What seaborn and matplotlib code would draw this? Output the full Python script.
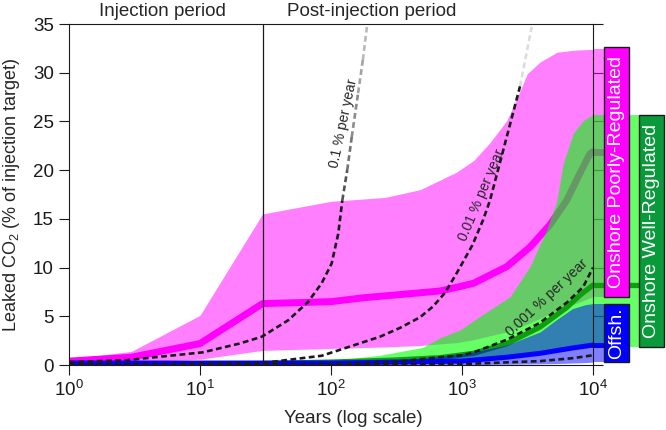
import numpy as np
import matplotlib
matplotlib.use("Agg")
import matplotlib.pyplot as plt
import seaborn as sns
from matplotlib.patches import Rectangle
from matplotlib.ticker import NullLocator

# values (years, % of injection target)
poor_t = [1, 3, 10, 30, 100, 258, 480, 910, 1230, 1630, 2200, 2650, 3150, 3950, 5300, 7000, 10000]
poor_hi = [0.6, 1.4, 5.1, 15.5, 16.8, 17.2, 18.0, 19.8, 21.0, 22.8, 25.1, 27.5, 29.9, 31.1, 32.1, 32.3, 32.4]
poor_lo = [0.15, 0.3, 0.6, 1.5, 1.7, 1.85, 2.0, 2.3, 2.6, 3.0, 3.4, 3.8, 4.2, 4.8, 5.6, 6.2, 7.0]
poor_med_t = [1, 3, 10, 30, 100, 176, 470, 680, 1000, 1230, 2200, 3300, 4700, 6300, 7960, 9480, 10000]
poor_med = [0.4, 0.8, 2.2, 6.3, 6.5, 6.9, 7.4, 7.6, 8.1, 8.4, 10.1, 12.1, 14.4, 16.9, 19.7, 21.7, 21.9]

well_t = [1, 30, 100, 236, 500, 680, 966, 1370, 2325, 3300, 4430, 5285, 5930, 7080, 8440, 10000]
well_hi = [0.1, 0.2, 0.45, 1.0, 1.8, 2.8, 3.6, 5.0, 7.0, 10.1, 13.9, 16.8, 20.7, 23.8, 25.1, 25.7]
well_lo = [0.0, 0.0, 0.1, 0.15, 0.25, 0.3, 0.35, 0.5, 0.75, 1.0, 1.2, 1.35, 1.45, 1.6, 1.75, 1.85]
well_med_t = [1, 30, 100, 300, 680, 1230, 2200, 3950, 6300, 8000, 10000]
well_med = [0.1, 0.15, 0.3, 0.5, 0.75, 1.2, 2.2, 3.9, 5.9, 7.2, 8.2]

off_t = [1, 30, 100, 300, 680, 1230, 2200, 3950, 5200, 7000, 8800, 10000]
off_hi = [0.15, 0.15, 0.25, 0.45, 0.9, 1.35, 2.05, 3.4, 4.6, 5.8, 6.2, 6.3]
off_lo = [0.0, 0.0, 0.0, 0.0, 0.02, 0.04, 0.07, 0.12, 0.15, 0.2, 0.25, 0.3]
off_med_t = [1, 100, 1000, 2200, 3950, 7000, 10000]
off_med = [0.2, 0.2, 0.4, 0.8, 1.2, 1.75, 2.05]

# constant leakage-rate reference curves
rate1_t = [1, 2.77, 10.5, 20, 29.6, 47.2, 67.1, 84.9, 101, 113.7, 122, 133, 144, 161, 175, 188]
rate1 = [0.3, 0.5, 1.3, 2.2, 2.9, 4.6, 6.5, 8.4, 10.4, 13.5, 16.9, 20.0, 23.4, 27.9, 31.3, 34.7]
rate2_t = [1, 30, 85, 236, 335, 478, 600, 740, 900, 1200, 1450, 1636, 2194, 2773, 3405]
rate2 = [0.0, 0.2, 0.95, 2.9, 3.8, 4.9, 6.0, 7.4, 9.3, 12.3, 14.9, 16.9, 23.4, 28.6, 34.7]
rate3_t = [1, 30, 100, 300, 680, 1000, 1230, 2200, 3900, 6300, 8400, 10000]
rate3 = [0.0, 0.03, 0.1, 0.3, 0.8, 1.0, 1.3, 2.6, 4.3, 6.4, 8.0, 10.0]
rate4_t = [1, 100, 1000, 3950, 7000, 10000]
rate4 = [0.0, 0.01, 0.1, 0.4, 0.7, 1.0]

x_ticks = [1, 10, 100, 1000, 10000]
y_ticks = [0, 5, 10, 15, 20, 25, 30, 35]

sns.set_theme(style="ticks")
plt.rcParams["font.family"] = ["Liberation Sans", "DejaVu Sans"]
plt.rcParams["mathtext.fontset"] = "custom"
plt.rcParams["mathtext.rm"] = "Liberation Sans"
plt.rcParams["mathtext.it"] = "Liberation Sans:italic"
plt.rcParams["mathtext.default"] = "regular"

fig = plt.figure(figsize=(6.66, 4.30), dpi=100)
ax = fig.add_axes([69 / 666, 1 - 365 / 430, 524 / 666, 341 / 430])
ax.set_xscale("log")

MAG, GRN, BLU = "#ff00ff", "#00ff00", "#0000ff"
dash = (0, (2.2, 1.3))

# bands + medians
ax.fill_between(poor_t, poor_lo, poor_hi, color=MAG, alpha=0.5, lw=0, zorder=1)
ax.fill_between([1e4, 12130], poor_lo[-1], poor_hi[-1], color=MAG, alpha=0.5, lw=0, zorder=1, clip_on=False)
sns.lineplot(x=poor_med_t, y=poor_med, color=MAG, lw=5, ax=ax, zorder=2)
ax.plot([1e4, 12130], [poor_med[-1]] * 2, color=MAG, lw=5, zorder=2, clip_on=False)

ax.fill_between(well_t, well_lo, well_hi, color=GRN, alpha=0.6, lw=0, zorder=3)
ax.fill_between([1e4, 34830], well_lo[-1], well_hi[-1], color=GRN, alpha=0.6, lw=0, zorder=3, clip_on=False)
sns.lineplot(x=well_med_t, y=well_med, color="#0e9e0e", lw=3.8, ax=ax, zorder=4)
ax.plot([1e4, 22430], [well_med[-1]] * 2, color="#0e9e0e", lw=3.8, zorder=4, clip_on=False)

ax.fill_between(off_t, off_lo, off_hi, color=BLU, alpha=0.5, lw=0, zorder=5)
ax.fill_between([1e4, 12130], off_lo[-1], off_hi[-1], color=BLU, alpha=0.5, lw=0, zorder=5, clip_on=False)
sns.lineplot(x=off_med_t, y=off_med, color=BLU, lw=3.6, ax=ax, zorder=6)
ax.plot([1e4, 12130], [off_med[-1]] * 2, color=BLU, lw=3.6, zorder=6, clip_on=False)

# dashed reference lines, fading where they leave the bands
def dashed(t, v, fade_from=None, alphas=()):
    k = len(t) if fade_from is None else fade_from + 1
    sns.lineplot(x=t[:k], y=v[:k], color="k", lw=1.9, linestyle=dash, ax=ax, zorder=7)
    for i, a in zip(range(k - 1, len(t) - 1), alphas):
        ax.plot(t[i:i + 2], v[i:i + 2], color="k", lw=1.9, linestyle=dash, alpha=a, zorder=7)

dashed(rate1_t, rate1, 10, [0.75, 0.6, 0.5, 0.4, 0.3])
dashed(rate2_t, rate2, 13, [0.15])
dashed(rate3_t, rate3)
dashed(rate4_t, rate4)

ax.axvline(30, color="k", lw=0.9, zorder=8)

ax.text(125.7, 24.8, "0.1 % per year", rotation=78, rotation_mode="anchor",
        ha="center", va="center", fontsize=10, zorder=9)
ax.text(1422, 17.4, "0.01 % per year", rotation=67, rotation_mode="anchor",
        ha="center", va="center", fontsize=10, zorder=9)
ax.text(4454, 6.9, "0.001 % per year", rotation=43, rotation_mode="anchor",
        ha="center", va="center", fontsize=10, zorder=9)

# label boxes on the right
boxes = [
    (12130, 18830, poor_lo[-1], poor_hi[-1] + 0.2, MAG, "Onshore Poorly-Regulated"),
    (12130, 18830, off_lo[-1], off_hi[-1], BLU, "Offsh."),
    (22430, 34830, well_lo[-1], well_hi[-1], "#0a9a3c", "Onshore Well-Regulated"),
]
for x0, x1, y0, y1, c, lab in boxes:
    ax.add_patch(Rectangle((x0, y0), x1 - x0, y1 - y0, facecolor=c, edgecolor="k",
                           lw=1.0, zorder=10, clip_on=False))
    ax.text(np.sqrt(x0 * x1), (y0 + y1) / 2, lab, rotation=90, color="white",
            ha="center", va="center", fontsize=14, zorder=11)

ax.text(5.13, 35.85, "Injection period", ha="center", va="baseline", fontsize=13.5)
ax.text(205, 35.85, "Post-injection period", ha="center", va="baseline", fontsize=13.5)

ax.set_xlim(1, 1e4)
ax.set_ylim(0, 35)
ax.set_xticks(x_ticks)
ax.xaxis.set_minor_locator(NullLocator())
ax.set_yticks(y_ticks)
ax.tick_params(axis="both", direction="out", length=7, width=0.8, labelsize=13.5,
               color="k", labelcolor="k", pad=4)
ax.tick_params(axis="y", right=True, labelright=False)
for s in ax.spines.values():
    s.set_visible(True)
    s.set_linewidth(0.8)
    s.set_color("k")
    s.set_zorder(12)

fig.text(353 / 666, 1 - 423 / 430, "Years (log scale)", ha="center", va="baseline", fontsize=13.5)
fig.text(0.017, 1 - 195 / 430, "Leaked CO$_2$ (% of injection target)", rotation=90,
         ha="center", va="center", fontsize=13)

fig.savefig("out.png", dpi=100)
